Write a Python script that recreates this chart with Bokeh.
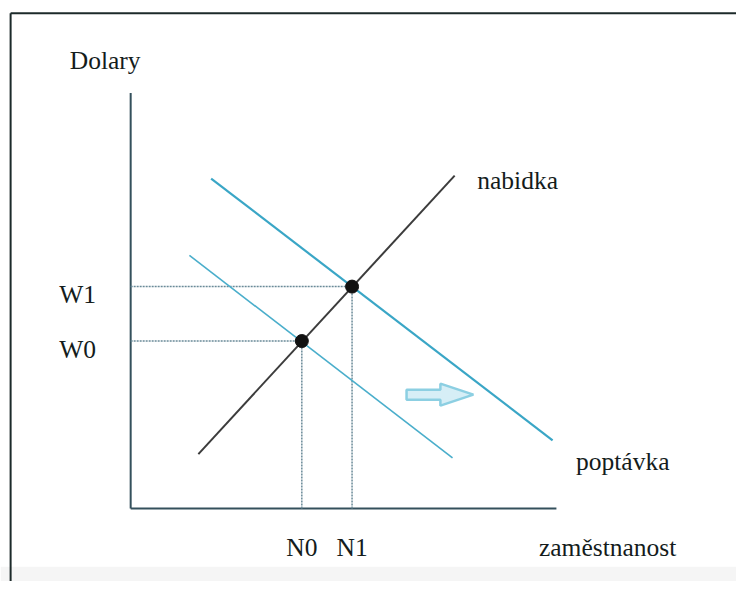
from bokeh.plotting import figure
from bokeh.models import ColumnDataSource
from bokeh.embed import file_html
from bokeh.resources import INLINE
from bokeh.core.properties import value

# ---------------- data ----------------
w_labels = ["W0", "W1"]
w_values = [4.03, 5.34]
n_labels = ["N0", "N1"]
n_values = [4.02, 5.20]

supply_x = [1.59, 7.61]
supply_y = [1.31, 8.01]
demand0_x = [1.38, 7.56]
demand0_y = [6.09, 1.22]
demand1_x = [1.89, 9.91]
demand1_y = [7.94, 1.64]

axis_max_x = 10.0
axis_max_y = 10.0

shift_arrow_x = [6.48, 8.05]
shift_arrow_y = 2.74

# ---------------- layout ----------------
W, H = 736, 581
KX, KY = W / 752, H / 597          # reference -> canvas scale
ORIGIN_X, ORIGIN_Y = 133 * KX, 522 * KY
SX, SY = 43.5 * KX, 42.7 * KY      # px per data unit
x_range = (-ORIGIN_X / SX, (W - ORIGIN_X) / SX)
y_range = (-(H - ORIGIN_Y) / SY, ORIGIN_Y / SY)

FONT = value("Liberation Serif")
FS = "25.5px"
TXT = "#141c1c"

p = figure(width=W, height=H, x_range=x_range, y_range=y_range,
           x_axis_type=None, y_axis_type=None, toolbar_location=None,
           output_backend="svg", min_border=0, outline_line_color=None,
           background_fill_color="white", border_fill_color="white")

# outer frame & bottom grey strip (decoration)
p.quad(left=x_range[0], right=x_range[1], bottom=y_range[0], top=-1.40,
       fill_color="#f5f5f5", line_color=None)
p.segment(x0=[-2.82, -2.82], y0=[y_range[0], 11.92], x1=[-2.82, x_range[1]],
          y1=[11.92, 11.92], line_color="#1c2a2a", line_width=2)

# axes
p.segment(x0=[0, 0], y0=[0, 0], x1=[axis_max_x, 0], y1=[0, axis_max_y],
          line_color="#34505c", line_width=2)

# dotted guide lines
p.segment(x0=[0] * len(w_values), y0=w_values, x1=n_values, y1=w_values,
          line_color="#6a8a98", line_width=1.5, line_dash="2 1")
p.segment(x0=n_values, y0=[0] * len(n_values), x1=n_values, y1=w_values,
          line_color="#6a8a98", line_width=1.5, line_dash="2 1")

# curves
p.line(demand0_x, demand0_y, line_color="#4aaecb", line_width=1.6)
p.line(demand1_x, demand1_y, line_color="#3aa6c6", line_width=2.2)
p.line(supply_x, supply_y, line_color="#3c3c3c", line_width=2)

# equilibrium points
p.scatter(n_values, w_values, size=13, fill_color="#111111", line_color="#111111")

# shift arrow (hollow block arrow)
shaft = 5 / SY
head = 11 / SY
head_len = 33 / SX
ax0, ax1 = shift_arrow_x
hx = ax1 - head_len
ay = shift_arrow_y
p.patch([ax0, hx, hx, ax1, hx, hx, ax0],
        [ay - shaft, ay - shaft, ay - head, ay, ay + head, ay + shaft, ay + shaft],
        fill_color="#d6eef6", line_color="#8ccfe2", line_width=2.5)

# labels
src_w = ColumnDataSource(dict(x=[-1.68] * len(w_values), y=w_values, t=w_labels))
p.text(x="x", y="y", text="t", source=src_w, text_font=FONT, text_font_size=FS,
       text_color=TXT, text_baseline="alphabetic", text_align="left", y_offset=8)
src_n = ColumnDataSource(dict(x=n_values, y=[0] * len(n_values), t=n_labels))
p.text(x="x", y="y", text="t", source=src_n, text_font=FONT, text_font_size=FS,
       text_color=TXT, text_baseline="alphabetic", text_align="center", y_offset=39)

p.text(x=[-1.43], y=[10.77], text=["Dolary"], text_font=FONT, text_font_size=FS,
       text_color=TXT, text_baseline="alphabetic")
p.text(x=[8.14], y=[7.89], text=["nabidka"], text_font=FONT, text_font_size=FS,
       text_color=TXT, text_baseline="alphabetic")
p.text(x=[10.46], y=[1.12], text=["poptávka"], text_font=FONT, text_font_size=FS,
       text_color=TXT, text_baseline="alphabetic")
p.text(x=[9.59], y=[0], text=["zaměstnanost"], text_font=FONT, text_font_size=FS,
       text_color=TXT, text_baseline="alphabetic", y_offset=39)

open("out.html", "w").write(file_html(p, INLINE))
